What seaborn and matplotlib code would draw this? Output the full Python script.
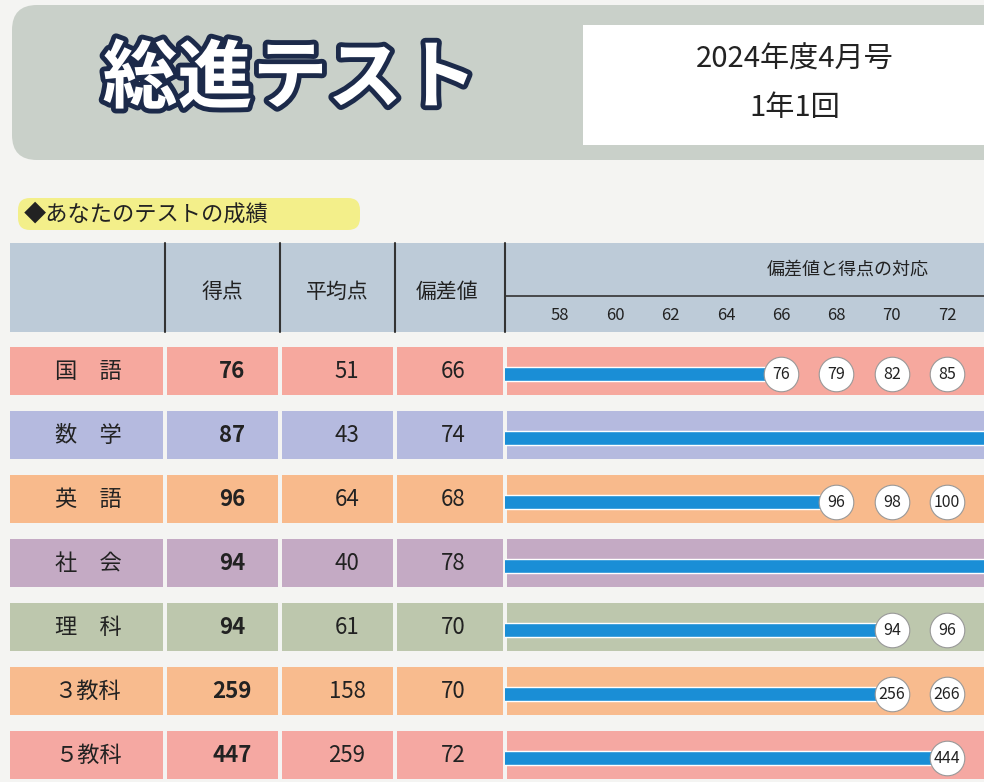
import matplotlib
matplotlib.use("Agg")
import matplotlib.pyplot as plt
import matplotlib.patheffects as pe
from matplotlib.patches import Rectangle, FancyBboxPatch
import pandas as pd
import seaborn as sns

subjects = ["国　語", "数　学", "英　語", "社　会", "理　科", "３教科", "５教科"]
scores = [76, 87, 96, 94, 94, 259, 447]
averages = [51, 43, 64, 40, 61, 158, 259]
deviations = [66, 74, 68, 78, 70, 70, 72]
row_colors = ["#f6a89e", "#b5badf", "#f8ba8c", "#c4aac4", "#bdc7ad", "#f8bb8e", "#f5a8a2"]
# (row index, deviation, score) for the circles on the bars
marks_row = [0, 0, 0, 0, 2, 2, 2, 4, 4, 5, 5, 6]
marks_dev = [66, 68, 70, 72, 68, 70, 72, 70, 72, 70, 72, 72]
marks_lbl = ["76", "79", "82", "85", "96", "98", "100", "94", "96", "256", "266", "444"]
axis_ticks = [58, 60, 62, 64, 66, 68, 70, 72]

sns.set_theme(style="white")
plt.rcParams["font.family"] = ["Noto Sans CJK JP", "DejaVu Sans"]

W, H = 984, 782
fig = plt.figure(figsize=(W / 100, H / 100), dpi=100)
fig.patch.set_facecolor("#f4f4f2")
bg = fig.add_axes([0, 0, 1, 1])
bg.set_xlim(0, W)
bg.set_ylim(H, 0)
bg.axis("off")


def rect(x0, y0, x1, y1, color, **kw):
    bg.add_patch(Rectangle((x0, y0), x1 - x0, y1 - y0, facecolor=color, edgecolor="none", **kw))


# banner
bg.add_patch(FancyBboxPatch((12, 5), 1000, 155, boxstyle="round,pad=0,rounding_size=25",
                            facecolor="#c9d0c9", edgecolor="none"))
bg.text(290, 80, "総進テスト", fontsize=54, fontweight="bold", color="white",
        ha="center", va="center",
        path_effects=[pe.withStroke(linewidth=7, foreground="#1c2a4a")])
rect(583, 25, 984, 145, "white")
bg.text(795, 60, "2024年度4月号", fontsize=21, ha="center", va="center", color="#222")
bg.text(795, 108, "1年1回", fontsize=21, ha="center", va="center", color="#222")

# section label
bg.add_patch(FancyBboxPatch((18, 198), 342, 32, boxstyle="round,pad=0,rounding_size=12",
                            facecolor="#f3ef8a", edgecolor="none"))
bg.text(24, 214, "◆あなたのテストの成績", fontsize=16, va="center", color="#222")

# header
cols = [(10, 163), (167, 278), (282, 393), (397, 503), (507, 984)]
rect(10, 243, 984, 332, "#bdcbd8")
for x in (165, 280, 395, 505):
    bg.plot([x, x], [243, 332], color="#333", lw=1.5)
bg.plot([505, 984], [296, 296], color="#333", lw=1.2)
for x, t in [(222, "得点"), (337, "平均点"), (447, "偏差値")]:
    bg.text(x, 292, t, fontsize=15, ha="center", va="center", color="#222")
bg.text(848, 270, "偏差値と得点の対応", fontsize=13, ha="center", va="center", color="#222")

# rows
row_h, first_c = 64, 371
for i, c in enumerate(row_colors):
    yc = first_c + i * row_h
    for x0, x1 in cols:
        rect(x0, yc - 24, x1, yc + 24, c)
    bg.text(88, yc, subjects[i], fontsize=16, ha="center", va="center", color="#222")
    bg.text(232, yc, str(scores[i]), fontsize=16, fontweight="bold", ha="center", va="center", color="#222")
    bg.text(347, yc, str(averages[i]), fontsize=16, ha="center", va="center", color="#222")
    bg.text(453, yc, str(deviations[i]), fontsize=16, ha="center", va="center", color="#222")

# bar axes aligned with the rows
top = first_c - row_h / 2
ax = fig.add_axes([505 / W, 1 - (top + 7 * row_h) / H, (W - 505) / W, 7 * row_h / H])
ax.patch.set_alpha(0)
lo = 58 - 55 / 27.65
ax.set_xlim(lo, lo + (W - 505) / 27.65)
df = pd.DataFrame({"subject": subjects, "dev": deviations})
sns.barplot(data=df, x="dev", y="subject", orient="h", color="#1a8ed6", width=0.22,
            saturation=1, ax=ax)
ax.set_ylim(6.5, -0.5)
for p in ax.patches:
    p.set_y(p.get_y() + 0.05)
ax.axis("off")
ax.scatter(marks_dev, [r + 0.05 for r in marks_row], s=620, color="white",
           edgecolor="#999", linewidth=0.8, zorder=5, clip_on=False)
for d, r, t in zip(marks_dev, marks_row, marks_lbl):
    ax.text(d, r + 0.05, t, fontsize=11.5, ha="center", va="center", zorder=6, color="#222")
for t in axis_ticks:
    bg.text(505 + (t - lo) * 27.65, 315, str(t), fontsize=12, ha="center", va="center", color="#222")

fig.savefig("out.png", dpi=100, facecolor=fig.get_facecolor())
